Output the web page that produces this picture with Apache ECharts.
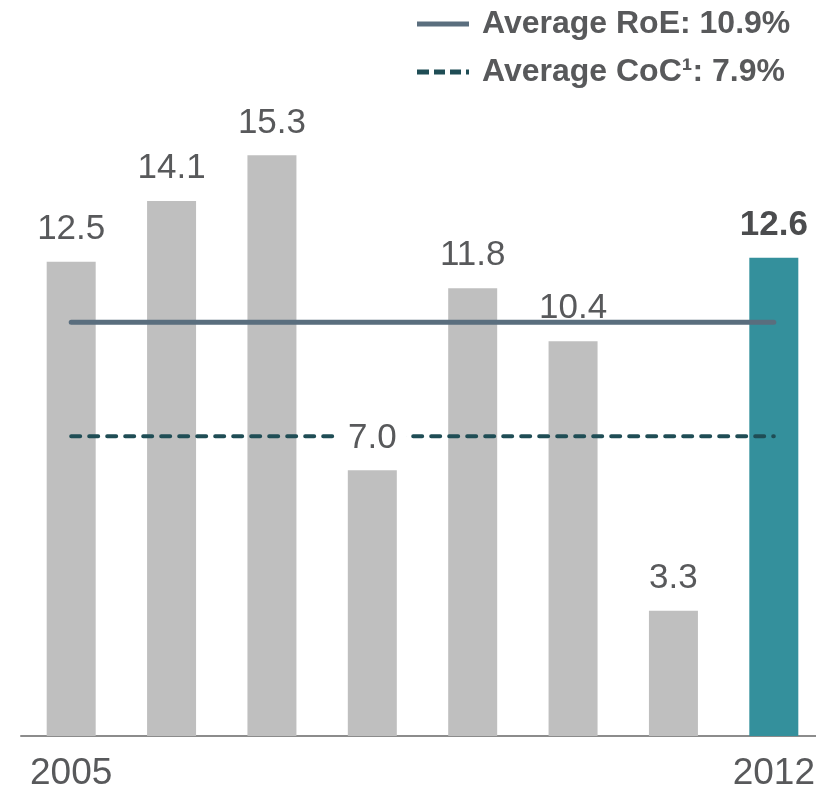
<!DOCTYPE html>
<html><head><meta charset="utf-8">
<script src="https://cdn.jsdelivr.net/npm/echarts@6/dist/echarts.min.js"></script>
<style>html,body{margin:0;padding:0;background:#fff}#c{width:816px;height:787px}</style>
</head><body><div id="c"></div>
<script>
const years = ['2005','2006','2007','2008','2009','2010','2011','2012'];
const roe = [12.5, 14.1, 15.3, 7.0, 11.8, 10.4, 3.3, 12.6];
const avgRoe = [10.9, 10.9, 10.9, 10.9, 10.9, 10.9, 10.9, 10.9];
const avgCoc = [7.9, 7.9, 7.9, 7.9, 7.9, 7.9, 7.9, 7.9];
const roeName = 'Average RoE: 10.9%';
const cocName = 'Average CoC\u00b9: 7.9%';

const FONT = '"Liberation Sans", Arial, sans-serif';
const TXT = '#58595b';
const lastIdx = roe.length - 1;

const barData = roe.map((v, i) => ({
  value: v,
  itemStyle: { color: i === lastIdx ? '#34909c' : '#bfbfbf' }
}));
const labelData = roe.map((v, i) => {
  const lab = {};
  if (i === lastIdx) { lab.fontWeight = 'bold'; lab.color = '#4b4c4e'; }
  if (v < avgCoc[i] && v + 1.6 > avgCoc[i]) { lab.backgroundColor = '#fff'; }
  return { value: v, label: lab };
});

const chart = echarts.init(document.getElementById('c'));
chart.setOption({
  animation: false,
  backgroundColor: '#fff',
  grid: { left: 21, width: 803, top: 128.8, bottom: 51, containLabel: false, outerBoundsMode: 'none' },
  legend: {
    orient: 'vertical', left: 412, top: 3, itemWidth: 52, itemHeight: 5, itemGap: 16,
    textStyle: { fontFamily: FONT, fontSize: 32, fontWeight: 'bold', color: TXT, padding: [0, 0, 0, 8] },
    data: [
      { name: roeName, icon: 'path://M0,0H52V5H0Z' },
      { name: cocName, icon: 'path://M0,0H12V5H0Z M17,0H28V5H17Z M33,0H44V5H33Z M49,0H52V5H49Z' }
    ]
  },
  xAxis: {
    type: 'category', data: years, boundaryGap: true,
    axisLine: { lineStyle: { color: '#8c8c8c', width: 2 } },
    axisTick: { show: false },
    axisLabel: {
      interval: (i) => i === 0 || i === lastIdx,
      fontFamily: FONT, fontSize: 37, color: TXT, margin: 19
    }
  },
  yAxis: { type: 'value', min: 0, max: 16, show: false, splitLine: { show: false } },
  series: [
    { type: 'bar', name: 'RoE', data: barData, barWidth: 49, z: 2, silent: true },
    { type: 'line', name: roeName, data: avgRoe, symbol: 'none', z: 3,
      color: '#5a6e7e',
      lineStyle: { color: '#5a6e7e', width: 5, cap: 'round' } },
    { type: 'line', name: cocName, data: avgCoc, symbol: 'none', z: 3,
      color: '#1f4d55',
      lineStyle: { color: '#1f4d55', width: 4, type: [9, 9], cap: 'round' } },
    { type: 'bar', name: 'labels', data: labelData, barWidth: 49, barGap: '-100%', z: 4,
      itemStyle: { color: 'rgba(0,0,0,0)' }, silent: true,
      label: { show: true, position: 'top', distance: 15, fontFamily: FONT, fontSize: 35,
        color: TXT, padding: [0, 10], formatter: (p) => p.value.toFixed(1) } }
  ]
});
</script></body></html>
